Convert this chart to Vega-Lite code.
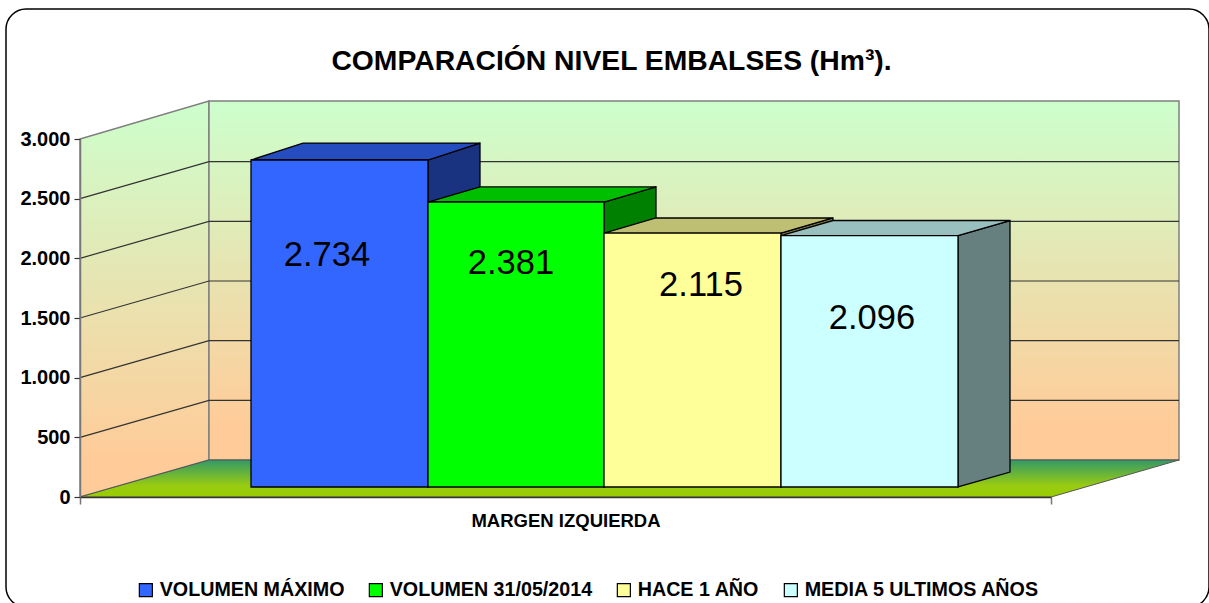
{
"$schema":"https://vega.github.io/schema/vega-lite/v6.json",
"width":971,"height":358,
"autosize":{"type":"none"},
"padding":{"left":80,"top":139,"right":158,"bottom":106},
"background":"#ffffff",
"config":{"view":{"stroke":null},"font":"Liberation Sans"},
"title":{"text":"COMPARACIÓN NIVEL EMBALSES (Hm³).","anchor":"middle","frame":"group","dx":46,"offset":-68,"fontSize":28.3,"fontWeight":"bold","font":"Liberation Sans","color":"#000000"},
"datasets":{
"marco":[{"x":-74,"x2":1129,"y":4089,"y2":-922}],
"paredIzq":[{"p":0,"alto":3000,"bajo":0},{"p":129,"alto":3318,"bajo":310}],
"paredFondo":[{"p":129,"p2":1099,"alto":3318,"bajo":310}],
"suelo":[{"p":0,"alto":0,"bajo":0},{"p":129,"alto":310,"bajo":0},{"p":971,"alto":310,"bajo":0},{"p":1099,"alto":310,"bajo":310}],
"rejilla":[
{"nivel":"500","p":0,"y":500},{"nivel":"500","p":129,"y":810},{"nivel":"500","p":1099,"y":810},
{"nivel":"1000","p":0,"y":1000},{"nivel":"1000","p":129,"y":1310},{"nivel":"1000","p":1099,"y":1310},
{"nivel":"1500","p":0,"y":1500},{"nivel":"1500","p":129,"y":1810},{"nivel":"1500","p":1099,"y":1810},
{"nivel":"2000","p":0,"y":2000},{"nivel":"2000","p":129,"y":2310},{"nivel":"2000","p":1099,"y":2310},
{"nivel":"2500","p":0,"y":2500},{"nivel":"2500","p":129,"y":2810},{"nivel":"2500","p":1099,"y":2810}
],
"lados":[
{"serie":"VOLUMEN MÁXIMO","p":348,"alto":2824,"bajo":84},{"serie":"VOLUMEN MÁXIMO","p":400,"alto":2966,"bajo":209},
{"serie":"VOLUMEN 31/05/2014","p":524,"alto":2472,"bajo":84},{"serie":"VOLUMEN 31/05/2014","p":576,"alto":2598,"bajo":209},
{"serie":"HACE 1 AÑO","p":701,"alto":2212,"bajo":84},{"serie":"HACE 1 AÑO","p":753,"alto":2338,"bajo":209},
{"serie":"MEDIA 5 ULTIMOS AÑOS","p":878,"alto":2191,"bajo":84},{"serie":"MEDIA 5 ULTIMOS AÑOS","p":930,"alto":2317,"bajo":209}
],
"tapas":[
{"serie":"VOLUMEN MÁXIMO","p":171,"alto":2824,"bajo":2824},{"serie":"VOLUMEN MÁXIMO","p":223,"alto":2966,"bajo":2824},{"serie":"VOLUMEN MÁXIMO","p":348,"alto":2966,"bajo":2824},{"serie":"VOLUMEN MÁXIMO","p":400,"alto":2966,"bajo":2966},
{"serie":"VOLUMEN 31/05/2014","p":348,"alto":2472,"bajo":2472},{"serie":"VOLUMEN 31/05/2014","p":400,"alto":2598,"bajo":2472},{"serie":"VOLUMEN 31/05/2014","p":524,"alto":2598,"bajo":2472},{"serie":"VOLUMEN 31/05/2014","p":576,"alto":2598,"bajo":2598},
{"serie":"HACE 1 AÑO","p":524,"alto":2212,"bajo":2212},{"serie":"HACE 1 AÑO","p":576,"alto":2338,"bajo":2212},{"serie":"HACE 1 AÑO","p":701,"alto":2338,"bajo":2212},{"serie":"HACE 1 AÑO","p":753,"alto":2338,"bajo":2338},
{"serie":"MEDIA 5 ULTIMOS AÑOS","p":701,"alto":2191,"bajo":2191},{"serie":"MEDIA 5 ULTIMOS AÑOS","p":753,"alto":2317,"bajo":2191},{"serie":"MEDIA 5 ULTIMOS AÑOS","p":878,"alto":2317,"bajo":2191},{"serie":"MEDIA 5 ULTIMOS AÑOS","p":930,"alto":2317,"bajo":2317}
],
"barras":[
{"serie":"VOLUMEN MÁXIMO","valor":2734,"etiqueta":"2.734","p":171,"p2":348,"tope":2824,"base":84,"etiP":247,"etiY":2019},
{"serie":"VOLUMEN 31/05/2014","valor":2381,"etiqueta":"2.381","p":348,"p2":524,"tope":2472,"base":84,"etiP":431,"etiY":1952},
{"serie":"HACE 1 AÑO","valor":2115,"etiqueta":"2.115","p":524,"p2":701,"tope":2212,"base":84,"etiP":621,"etiY":1768},
{"serie":"MEDIA 5 ULTIMOS AÑOS","valor":2096,"etiqueta":"2.096","p":701,"p2":878,"tope":2191,"base":84,"etiP":792,"etiY":1491}
]
},
"layer":[
{"data":{"name":"marco"},"mark":{"type":"rect","fill":"#ffffff","stroke":"#000000","strokeWidth":1.5,"cornerRadius":20},
"encoding":{"x":{"field":"x","type":"quantitative","scale":{"domain":[0,971],"nice":false,"zero":false},"axis":{"values":[0,971],"labels":false,"grid":false,"domainColor":"#333333","domainWidth":1.5,"tickColor":"#777777","tickSize":7,"tickWidth":1.5,"title":"MARGEN IZQUIERDA","titleFontSize":18.5,"titleFontWeight":"bold","titleFont":"Liberation Sans","titleColor":"#000000","titlePadding":7,"zindex":1}},
"x2":{"field":"x2"},
"y":{"field":"y","type":"quantitative","scale":{"domain":[0,3000],"nice":false,"zero":false},"axis":{"values":[0,500,1000,1500,2000,2500,3000],"labelExpr":"replace(format(datum.value,','),',','.')","labelFontSize":20,"labelFontWeight":"bold","labelFont":"Liberation Sans","labelColor":"#000000","labelPadding":4,"tickColor":"#333333","tickSize":6,"tickWidth":1.2,"domainColor":"#777777","domainWidth":1.5,"grid":false,"title":null,"zindex":1}},
"y2":{"field":"y2"}}},
{"data":{"name":"paredIzq"},"mark":{"type":"area","stroke":"#808080","strokeWidth":1.5,"fill":{"gradient":"linear","x1":0,"y1":0,"x2":0,"y2":1,"stops":[{"offset":0,"color":"#ccffcc"},{"offset":0.9,"color":"#ffcc99"},{"offset":1,"color":"#ffcc99"}]}},
"encoding":{"x":{"field":"p","type":"quantitative","scale":{"domain":[0,971],"nice":false,"zero":false},"axis":{"values":[0,971],"labels":false,"grid":false,"domainColor":"#333333","domainWidth":1.5,"tickColor":"#777777","tickSize":7,"tickWidth":1.5,"title":"MARGEN IZQUIERDA","titleFontSize":18.5,"titleFontWeight":"bold","titleFont":"Liberation Sans","titleColor":"#000000","titlePadding":7,"zindex":1}},"y":{"field":"alto","type":"quantitative","scale":{"domain":[0,3000],"nice":false,"zero":false},"axis":{"values":[0,500,1000,1500,2000,2500,3000],"labelExpr":"replace(format(datum.value,','),',','.')","labelFontSize":20,"labelFontWeight":"bold","labelFont":"Liberation Sans","labelColor":"#000000","labelPadding":4,"tickColor":"#333333","tickSize":6,"tickWidth":1.2,"domainColor":"#777777","domainWidth":1.5,"grid":false,"title":null,"zindex":1}},"y2":{"field":"bajo"}}},
{"data":{"name":"paredFondo"},"mark":{"type":"rect","stroke":"#808080","strokeWidth":1.5,"fill":{"gradient":"linear","x1":0,"y1":0,"x2":0,"y2":1,"stops":[{"offset":0,"color":"#ccffcc"},{"offset":0.9,"color":"#ffcc99"},{"offset":1,"color":"#ffcc99"}]}},
"encoding":{"x":{"field":"p","type":"quantitative","scale":{"domain":[0,971],"nice":false,"zero":false},"axis":{"values":[0,971],"labels":false,"grid":false,"domainColor":"#333333","domainWidth":1.5,"tickColor":"#777777","tickSize":7,"tickWidth":1.5,"title":"MARGEN IZQUIERDA","titleFontSize":18.5,"titleFontWeight":"bold","titleFont":"Liberation Sans","titleColor":"#000000","titlePadding":7,"zindex":1}},"x2":{"field":"p2"},"y":{"field":"alto","type":"quantitative","scale":{"domain":[0,3000],"nice":false,"zero":false},"axis":{"values":[0,500,1000,1500,2000,2500,3000],"labelExpr":"replace(format(datum.value,','),',','.')","labelFontSize":20,"labelFontWeight":"bold","labelFont":"Liberation Sans","labelColor":"#000000","labelPadding":4,"tickColor":"#333333","tickSize":6,"tickWidth":1.2,"domainColor":"#777777","domainWidth":1.5,"grid":false,"title":null,"zindex":1}},"y2":{"field":"bajo"}}},
{"data":{"name":"suelo"},"mark":{"type":"area","stroke":"#555555","strokeWidth":1,"fill":{"gradient":"linear","x1":0,"y1":0,"x2":0,"y2":1,"stops":[{"offset":0,"color":"#339966"},{"offset":0.7,"color":"#99cc11"},{"offset":1,"color":"#99cc00"}]}},
"encoding":{"x":{"field":"p","type":"quantitative","scale":{"domain":[0,971],"nice":false,"zero":false},"axis":{"values":[0,971],"labels":false,"grid":false,"domainColor":"#333333","domainWidth":1.5,"tickColor":"#777777","tickSize":7,"tickWidth":1.5,"title":"MARGEN IZQUIERDA","titleFontSize":18.5,"titleFontWeight":"bold","titleFont":"Liberation Sans","titleColor":"#000000","titlePadding":7,"zindex":1}},"y":{"field":"alto","type":"quantitative","scale":{"domain":[0,3000],"nice":false,"zero":false},"axis":{"values":[0,500,1000,1500,2000,2500,3000],"labelExpr":"replace(format(datum.value,','),',','.')","labelFontSize":20,"labelFontWeight":"bold","labelFont":"Liberation Sans","labelColor":"#000000","labelPadding":4,"tickColor":"#333333","tickSize":6,"tickWidth":1.2,"domainColor":"#777777","domainWidth":1.5,"grid":false,"title":null,"zindex":1}},"y2":{"field":"bajo"}}},
{"data":{"name":"rejilla"},"mark":{"type":"line","stroke":"#333333","strokeWidth":1.2,"interpolate":"linear"},
"encoding":{"x":{"field":"p","type":"quantitative","scale":{"domain":[0,971],"nice":false,"zero":false},"axis":{"values":[0,971],"labels":false,"grid":false,"domainColor":"#333333","domainWidth":1.5,"tickColor":"#777777","tickSize":7,"tickWidth":1.5,"title":"MARGEN IZQUIERDA","titleFontSize":18.5,"titleFontWeight":"bold","titleFont":"Liberation Sans","titleColor":"#000000","titlePadding":7,"zindex":1}},"y":{"field":"y","type":"quantitative","scale":{"domain":[0,3000],"nice":false,"zero":false},"axis":{"values":[0,500,1000,1500,2000,2500,3000],"labelExpr":"replace(format(datum.value,','),',','.')","labelFontSize":20,"labelFontWeight":"bold","labelFont":"Liberation Sans","labelColor":"#000000","labelPadding":4,"tickColor":"#333333","tickSize":6,"tickWidth":1.2,"domainColor":"#777777","domainWidth":1.5,"grid":false,"title":null,"zindex":1}},"detail":{"field":"nivel"}}},
{"data":{"name":"lados"},"mark":{"type":"area","stroke":"#000000","strokeWidth":1.3},
"encoding":{"x":{"field":"p","type":"quantitative","scale":{"domain":[0,971],"nice":false,"zero":false},"axis":{"values":[0,971],"labels":false,"grid":false,"domainColor":"#333333","domainWidth":1.5,"tickColor":"#777777","tickSize":7,"tickWidth":1.5,"title":"MARGEN IZQUIERDA","titleFontSize":18.5,"titleFontWeight":"bold","titleFont":"Liberation Sans","titleColor":"#000000","titlePadding":7,"zindex":1}},"y":{"field":"alto","type":"quantitative","scale":{"domain":[0,3000],"nice":false,"zero":false},"axis":{"values":[0,500,1000,1500,2000,2500,3000],"labelExpr":"replace(format(datum.value,','),',','.')","labelFontSize":20,"labelFontWeight":"bold","labelFont":"Liberation Sans","labelColor":"#000000","labelPadding":4,"tickColor":"#333333","tickSize":6,"tickWidth":1.2,"domainColor":"#777777","domainWidth":1.5,"grid":false,"title":null,"zindex":1}},"y2":{"field":"bajo"},
"color":{"field":"serie","type":"nominal","legend":null,"scale":{"domain":["VOLUMEN MÁXIMO","VOLUMEN 31/05/2014","HACE 1 AÑO","MEDIA 5 ULTIMOS AÑOS"],"range":["#1a3380","#008000","#80804d","#668080"]}}}},
{"data":{"name":"tapas"},"mark":{"type":"area","stroke":"#000000","strokeWidth":1.3},
"encoding":{"x":{"field":"p","type":"quantitative","scale":{"domain":[0,971],"nice":false,"zero":false},"axis":{"values":[0,971],"labels":false,"grid":false,"domainColor":"#333333","domainWidth":1.5,"tickColor":"#777777","tickSize":7,"tickWidth":1.5,"title":"MARGEN IZQUIERDA","titleFontSize":18.5,"titleFontWeight":"bold","titleFont":"Liberation Sans","titleColor":"#000000","titlePadding":7,"zindex":1}},"y":{"field":"alto","type":"quantitative","scale":{"domain":[0,3000],"nice":false,"zero":false},"axis":{"values":[0,500,1000,1500,2000,2500,3000],"labelExpr":"replace(format(datum.value,','),',','.')","labelFontSize":20,"labelFontWeight":"bold","labelFont":"Liberation Sans","labelColor":"#000000","labelPadding":4,"tickColor":"#333333","tickSize":6,"tickWidth":1.2,"domainColor":"#777777","domainWidth":1.5,"grid":false,"title":null,"zindex":1}},"y2":{"field":"bajo"},
"color":{"field":"serie","type":"nominal","legend":null,"scale":{"domain":["VOLUMEN MÁXIMO","VOLUMEN 31/05/2014","HACE 1 AÑO","MEDIA 5 ULTIMOS AÑOS"],"range":["#264dbf","#00bf00","#bfbf73","#99bfbf"]}}}},
{"data":{"name":"barras"},"mark":{"type":"rect","stroke":"#000000","strokeWidth":1.3},
"encoding":{"x":{"field":"p","type":"quantitative","scale":{"domain":[0,971],"nice":false,"zero":false},"axis":{"values":[0,971],"labels":false,"grid":false,"domainColor":"#333333","domainWidth":1.5,"tickColor":"#777777","tickSize":7,"tickWidth":1.5,"title":"MARGEN IZQUIERDA","titleFontSize":18.5,"titleFontWeight":"bold","titleFont":"Liberation Sans","titleColor":"#000000","titlePadding":7,"zindex":1}},"x2":{"field":"p2"},"y":{"field":"tope","type":"quantitative","scale":{"domain":[0,3000],"nice":false,"zero":false},"axis":{"values":[0,500,1000,1500,2000,2500,3000],"labelExpr":"replace(format(datum.value,','),',','.')","labelFontSize":20,"labelFontWeight":"bold","labelFont":"Liberation Sans","labelColor":"#000000","labelPadding":4,"tickColor":"#333333","tickSize":6,"tickWidth":1.2,"domainColor":"#777777","domainWidth":1.5,"grid":false,"title":null,"zindex":1}},"y2":{"field":"base"},
"color":{"field":"serie","type":"nominal","scale":{"domain":["VOLUMEN MÁXIMO","VOLUMEN 31/05/2014","HACE 1 AÑO","MEDIA 5 ULTIMOS AÑOS"],"range":["#3366ff","#00ff00","#ffff99","#ccffff"]},
"legend":{"orient":"none","legendX":56,"legendY":441,"direction":"horizontal","columns":4,"title":null,"symbolType":"square","symbolSize":170,"symbolStrokeColor":"#000000","symbolStrokeWidth":1.2,"labelFontSize":19.7,"labelFontWeight":"bold","labelFont":"Liberation Sans","labelColor":"#000000","labelLimit":400,"columnPadding":21,"labelOffset":4}}}},
{"data":{"name":"barras"},"mark":{"type":"text","fontSize":34.5,"font":"Liberation Sans","color":"#000000","align":"center","baseline":"middle"},
"encoding":{"x":{"field":"etiP","type":"quantitative","scale":{"domain":[0,971],"nice":false,"zero":false},"axis":{"values":[0,971],"labels":false,"grid":false,"domainColor":"#333333","domainWidth":1.5,"tickColor":"#777777","tickSize":7,"tickWidth":1.5,"title":"MARGEN IZQUIERDA","titleFontSize":18.5,"titleFontWeight":"bold","titleFont":"Liberation Sans","titleColor":"#000000","titlePadding":7,"zindex":1}},"y":{"field":"etiY","type":"quantitative","scale":{"domain":[0,3000],"nice":false,"zero":false},"axis":{"values":[0,500,1000,1500,2000,2500,3000],"labelExpr":"replace(format(datum.value,','),',','.')","labelFontSize":20,"labelFontWeight":"bold","labelFont":"Liberation Sans","labelColor":"#000000","labelPadding":4,"tickColor":"#333333","tickSize":6,"tickWidth":1.2,"domainColor":"#777777","domainWidth":1.5,"grid":false,"title":null,"zindex":1}},"text":{"field":"etiqueta"}}}
],
"resolve":{"scale":{"color":"independent"}}
}
